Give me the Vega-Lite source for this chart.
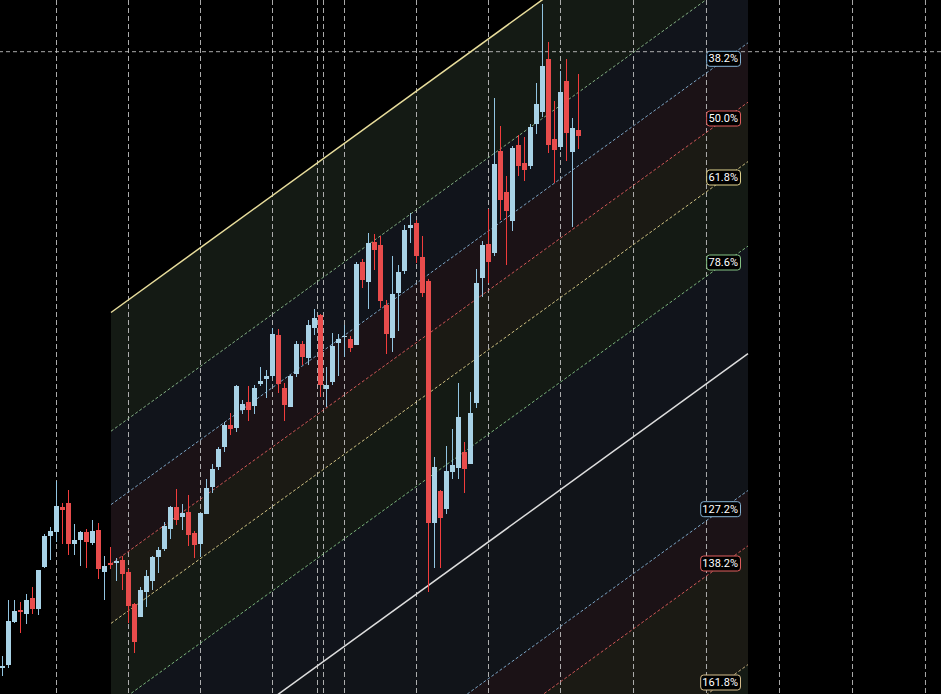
{
  "$schema": "https://vega.github.io/schema/vega-lite/v6.json",
  "width": 941,
  "height": 694,
  "padding": 0,
  "autosize": {"type": "none"},
  "background": "#000000",
  "config": {"view": {"stroke": null}, "scale": {"continuousPadding": 0}},
  "datasets": {
    "candles": [
      {"t":0,"o":102.6,"h":103.8,"l":101.8,"c":102.8},
      {"t":1,"o":102.9,"h":109.4,"l":102.6,"c":107.3},
      {"t":2,"o":107.2,"h":109.4,"l":107.1,"c":108.3},
      {"t":3,"o":108.4,"h":109.2,"l":106.1,"c":108.2},
      {"t":4,"o":108.0,"h":110.0,"l":107.0,"c":109.4},
      {"t":5,"o":109.6,"h":110.7,"l":108.0,"c":108.5},
      {"t":6,"o":108.5,"h":112.4,"l":107.9,"c":112.4},
      {"t":7,"o":112.7,"h":116.0,"l":112.6,"c":115.8},
      {"t":8,"o":115.8,"h":116.7,"l":113.4,"c":116.3},
      {"t":9,"o":116.2,"h":121.3,"l":115.2,"c":118.8},
      {"t":10,"o":118.7,"h":119.1,"l":115.0,"c":118.4},
      {"t":11,"o":119.1,"h":120.4,"l":113.9,"c":115.0},
      {"t":12,"o":115.0,"h":117.0,"l":113.9,"c":115.4},
      {"t":13,"o":115.4,"h":116.3,"l":112.8,"c":116.2},
      {"t":14,"o":116.2,"h":116.5,"l":112.6,"c":115.2},
      {"t":15,"o":115.1,"h":117.4,"l":114.9,"c":116.3},
      {"t":16,"o":116.4,"h":117.1,"l":111.5,"c":112.5},
      {"t":17,"o":112.2,"h":113.8,"l":109.4,"c":112.8},
      {"t":18,"o":113.1,"h":114.7,"l":112.5,"c":112.9},
      {"t":19,"o":113.1,"h":113.6,"l":111.3,"c":113.3},
      {"t":20,"o":113.4,"h":113.8,"l":110.4,"c":112.0},
      {"t":21,"o":112.2,"h":112.5,"l":107.1,"c":108.8},
      {"t":22,"o":109.0,"h":109.1,"l":104.1,"c":105.2},
      {"t":23,"o":107.7,"h":110.7,"l":107.7,"c":110.4},
      {"t":24,"o":110.2,"h":112.4,"l":108.7,"c":111.8},
      {"t":25,"o":111.3,"h":113.8,"l":110.4,"c":113.7},
      {"t":26,"o":113.7,"h":114.7,"l":112.1,"c":114.4},
      {"t":27,"o":114.5,"h":117.2,"l":114.3,"c":116.8},
      {"t":28,"o":116.5,"h":118.8,"l":115.5,"c":118.7},
      {"t":29,"o":118.7,"h":120.5,"l":116.9,"c":117.4},
      {"t":30,"o":117.7,"h":119.0,"l":116.4,"c":118.1},
      {"t":31,"o":118.2,"h":119.9,"l":114.8,"c":115.9},
      {"t":32,"o":116.1,"h":116.3,"l":113.6,"c":114.9},
      {"t":33,"o":115.0,"h":118.1,"l":113.7,"c":118.1},
      {"t":34,"o":118.0,"h":121.5,"l":118.0,"c":120.6},
      {"t":35,"o":120.7,"h":123.0,"l":120.1,"c":122.5},
      {"t":36,"o":122.7,"h":124.7,"l":122.4,"c":124.5},
      {"t":37,"o":124.7,"h":127.2,"l":124.2,"c":126.9},
      {"t":38,"o":126.9,"h":128.1,"l":125.9,"c":126.5},
      {"t":39,"o":126.6,"h":130.9,"l":126.2,"c":130.8},
      {"t":40,"o":128.4,"h":129.4,"l":128.0,"c":129.0},
      {"t":41,"o":129.2,"h":130.8,"l":127.3,"c":128.4},
      {"t":42,"o":128.8,"h":130.9,"l":128.0,"c":130.6},
      {"t":43,"o":131.0,"h":132.7,"l":130.8,"c":131.3},
      {"t":44,"o":131.5,"h":132.4,"l":129.6,"c":131.8},
      {"t":45,"o":131.8,"h":136.6,"l":131.6,"c":136.0},
      {"t":46,"o":135.9,"h":136.5,"l":130.1,"c":131.0},
      {"t":47,"o":130.6,"h":131.1,"l":127.3,"c":128.9},
      {"t":48,"o":128.7,"h":131.9,"l":128.7,"c":131.8},
      {"t":49,"o":132.0,"h":135.3,"l":131.7,"c":135.0},
      {"t":50,"o":135.0,"h":135.3,"l":132.9,"c":133.7},
      {"t":51,"o":133.6,"h":137.4,"l":132.9,"c":136.9},
      {"t":52,"o":136.6,"h":138.5,"l":135.9,"c":137.6},
      {"t":53,"o":137.9,"h":138.0,"l":129.7,"c":130.9},
      {"t":54,"o":130.5,"h":132.7,"l":128.7,"c":130.9},
      {"t":55,"o":131.2,"h":136.1,"l":130.9,"c":134.8},
      {"t":56,"o":135.1,"h":136.0,"l":131.8,"c":135.5},
      {"t":57,"o":135.7,"h":136.9,"l":133.7,"c":135.8},
      {"t":58,"o":135.5,"h":135.8,"l":134.2,"c":134.6},
      {"t":59,"o":134.9,"h":143.2,"l":134.9,"c":143.0},
      {"t":60,"o":143.2,"h":143.5,"l":140.6,"c":141.4},
      {"t":61,"o":141.2,"h":146.1,"l":138.5,"c":145.1},
      {"t":62,"o":145.2,"h":146.0,"l":142.4,"c":144.4},
      {"t":63,"o":144.9,"h":145.8,"l":138.6,"c":139.3},
      {"t":64,"o":138.9,"h":139.4,"l":134.0,"c":136.0},
      {"t":65,"o":135.6,"h":143.8,"l":134.2,"c":140.0},
      {"t":66,"o":140.1,"h":142.9,"l":136.3,"c":142.2},
      {"t":67,"o":142.3,"h":146.9,"l":142.0,"c":146.4},
      {"t":68,"o":146.6,"h":148.1,"l":145.1,"c":146.9},
      {"t":69,"o":147.1,"h":147.4,"l":143.1,"c":143.8},
      {"t":70,"o":143.7,"h":145.8,"l":139.7,"c":140.1},
      {"t":71,"o":141.3,"h":141.5,"l":110.2,"c":117.1},
      {"t":72,"o":117.1,"h":123.7,"l":112.6,"c":122.7},
      {"t":73,"o":120.3,"h":120.4,"l":112.6,"c":117.6},
      {"t":74,"o":118.5,"h":124.8,"l":118.0,"c":122.3},
      {"t":75,"o":122.2,"h":126.5,"l":121.5,"c":122.9},
      {"t":76,"o":122.6,"h":131.1,"l":121.5,"c":127.7},
      {"t":77,"o":124.2,"h":125.2,"l":120.1,"c":122.5},
      {"t":78,"o":123.0,"h":130.2,"l":123.0,"c":128.1},
      {"t":79,"o":129.1,"h":142.5,"l":128.6,"c":141.1},
      {"t":80,"o":141.6,"h":145.3,"l":139.7,"c":144.9},
      {"t":81,"o":145.0,"h":148.5,"l":141.1,"c":143.2},
      {"t":82,"o":144.1,"h":159.6,"l":143.8,"c":153.0},
      {"t":83,"o":154.3,"h":156.8,"l":147.4,"c":149.4},
      {"t":84,"o":150.2,"h":151.8,"l":142.9,"c":148.3},
      {"t":85,"o":147.3,"h":154.8,"l":146.3,"c":154.6},
      {"t":86,"o":154.9,"h":155.9,"l":151.8,"c":152.8},
      {"t":87,"o":153.1,"h":155.7,"l":151.3,"c":152.4},
      {"t":88,"o":152.8,"h":157.0,"l":152.5,"c":156.7},
      {"t":89,"o":157.0,"h":161.1,"l":156.0,"c":159.0},
      {"t":90,"o":158.2,"h":169.0,"l":157.7,"c":162.8},
      {"t":91,"o":163.5,"h":165.2,"l":154.1,"c":154.9},
      {"t":92,"o":155.5,"h":159.3,"l":151.1,"c":154.4},
      {"t":93,"o":154.7,"h":162.3,"l":154.4,"c":160.2},
      {"t":94,"o":161.3,"h":163.5,"l":153.3,"c":156.1},
      {"t":95,"o":154.2,"h":157.6,"l":146.7,"c":156.6},
      {"t":96,"o":156.4,"h":162.0,"l":154.5,"c":155.8}
    ],
    "levels": [
      {"lvl":"0","t":18.083,"price":138.15},{"lvl":"0","t":124.25,"price":184.33},
      {"lvl":"23.6","t":18.083,"price":126.28},{"lvl":"23.6","t":124.25,"price":172.46},
      {"lvl":"38.2","t":18.083,"price":118.94},{"lvl":"38.2","t":124.25,"price":165.12},
      {"lvl":"50","t":18.083,"price":113.0},{"lvl":"50","t":124.25,"price":159.18},
      {"lvl":"61.8","t":18.083,"price":107.06},{"lvl":"61.8","t":124.25,"price":153.24},
      {"lvl":"78.6","t":18.083,"price":98.61},{"lvl":"78.6","t":124.25,"price":144.79},
      {"lvl":"100","t":18.083,"price":87.85},{"lvl":"100","t":124.25,"price":134.03},
      {"lvl":"127.2","t":18.083,"price":74.17},{"lvl":"127.2","t":124.25,"price":120.35},
      {"lvl":"138.2","t":18.083,"price":68.64},{"lvl":"138.2","t":124.25,"price":114.82},
      {"lvl":"161.8","t":18.083,"price":56.76},{"lvl":"161.8","t":124.25,"price":102.94}
    ],
    "bands": [
      {"band":"b0","t":18.083,"lo":126.28,"hi":138.15},{"band":"b0","t":124.25,"lo":172.46,"hi":184.33},
      {"band":"b1","t":18.083,"lo":118.94,"hi":126.28},{"band":"b1","t":124.25,"lo":165.12,"hi":172.46},
      {"band":"b2","t":18.083,"lo":113.0,"hi":118.94},{"band":"b2","t":124.25,"lo":159.18,"hi":165.12},
      {"band":"b3","t":18.083,"lo":107.06,"hi":113.0},{"band":"b3","t":124.25,"lo":153.24,"hi":159.18},
      {"band":"b4","t":18.083,"lo":98.61,"hi":107.06},{"band":"b4","t":124.25,"lo":144.79,"hi":153.24},
      {"band":"b5","t":18.083,"lo":87.85,"hi":98.61},{"band":"b5","t":124.25,"lo":134.03,"hi":144.79},
      {"band":"b6","t":18.083,"lo":74.17,"hi":87.85},{"band":"b6","t":124.25,"lo":120.35,"hi":134.03},
      {"band":"b7","t":18.083,"lo":68.64,"hi":74.17},{"band":"b7","t":124.25,"lo":114.82,"hi":120.35},
      {"band":"b8","t":18.083,"lo":56.76,"hi":68.64},{"band":"b8","t":124.25,"lo":102.94,"hi":114.82},
      {"band":"b9","t":18.083,"lo":37.55,"hi":56.76},{"band":"b9","t":124.25,"lo":83.73,"hi":102.94}
    ],
    "gridx": [
      {"t":9},{"t":21},{"t":33},{"t":45},{"t":52.5},{"t":53.5},{"t":57},{"t":69},{"t":81},{"t":93},
      {"t":105.17},{"t":117.33},{"t":129.5},{"t":141.67},{"t":153.83}
    ],
    "gridy": [{"price":164.23}],
    "labels": [
      {"label":"38.2%","lvl":"38.2","t":120.08,"price":163.52},
      {"label":"50.0%","lvl":"50","t":120.08,"price":157.55},
      {"label":"61.8%","lvl":"61.8","t":120.08,"price":151.65},
      {"label":"78.6%","lvl":"78.6","t":120.08,"price":143.15},
      {"label":"127.2%","lvl":"127.2","t":120.08,"price":118.48},
      {"label":"138.2%","lvl":"138.2","t":120.08,"price":113.05},
      {"label":"161.8%","lvl":"161.8","t":120.08,"price":101.15}
    ]
  },
  "layer": [
    {
      "data": {"name": "bands"},
      "mark": {"type": "area", "clip": true, "opacity": 1},
      "encoding": {
        "x": {"field": "t", "type": "quantitative", "scale": {"domain": [-0.4167, 156.4167], "nice": false, "zero": false, "padding": 0}, "axis": null},
        "y": {"field": "lo", "type": "quantitative", "scale": {"domain": [100, 169.4], "nice": false, "zero": false, "padding": 0}, "axis": null},
        "y2": {"field": "hi"},
        "fill": {"field": "band", "type": "nominal", "legend": null,
          "scale": {"domain": ["b0","b1","b2","b3","b4","b5","b6","b7","b8","b9"],
                    "range": ["#141a14","#11141b","#1b1216","#1b1a14","#141a14","#11141b","#111419","#1b1216","#1b1a14","#141a14"]}}
      }
    },
    {
      "data": {"name": "gridx"},
      "mark": {"type": "rule", "color": "#c8c8c8", "strokeWidth": 1, "strokeDash": [5, 3], "opacity": 0.85},
      "encoding": {
        "x": {"field": "t", "type": "quantitative", "scale": {"domain": [-0.4167, 156.4167], "nice": false, "zero": false, "padding": 0}, "axis": null}
      }
    },
    {
      "data": {"name": "gridy"},
      "mark": {"type": "rule", "color": "#c8c8c8", "strokeWidth": 1, "strokeDash": [4, 3], "opacity": 0.85},
      "encoding": {
        "y": {"field": "price", "type": "quantitative", "scale": {"domain": [100, 169.4], "nice": false, "zero": false, "padding": 0}, "axis": null}
      }
    },
    {
      "data": {"name": "levels"},
      "transform": [{"filter": "datum.lvl !== '0' && datum.lvl !== '100'"}],
      "mark": {"type": "line", "clip": true, "strokeWidth": 1, "strokeDash": [3, 2], "opacity": 0.9},
      "encoding": {
        "x": {"field": "t", "type": "quantitative", "scale": {"domain": [-0.4167, 156.4167], "nice": false, "zero": false, "padding": 0}, "axis": null},
        "y": {"field": "price", "type": "quantitative", "scale": {"domain": [100, 169.4], "nice": false, "zero": false, "padding": 0}, "axis": null},
        "stroke": {"field": "lvl", "type": "nominal", "legend": null,
          "scale": {"domain": ["0","23.6","38.2","50","61.8","78.6","100","127.2","138.2","161.8"],
                    "range": ["#e9de9c","#8fbf8f","#86b4d6","#e25f5f","#e3d48f","#86c486","#dedede","#86b4d6","#e25f5f","#d9c08e"]}}
      }
    },
    {
      "data": {"name": "levels"},
      "transform": [{"filter": "datum.lvl === '0' || datum.lvl === '100'"}],
      "mark": {"type": "line", "clip": true, "strokeWidth": 1.5},
      "encoding": {
        "x": {"field": "t", "type": "quantitative", "scale": {"domain": [-0.4167, 156.4167], "nice": false, "zero": false, "padding": 0}, "axis": null},
        "y": {"field": "price", "type": "quantitative", "scale": {"domain": [100, 169.4], "nice": false, "zero": false, "padding": 0}, "axis": null},
        "stroke": {"field": "lvl", "type": "nominal", "legend": null}
      }
    },
    {
      "data": {"name": "candles"},
      "mark": {"type": "rule", "strokeWidth": 1},
      "encoding": {
        "x": {"field": "t", "type": "quantitative", "scale": {"domain": [-0.4167, 156.4167], "nice": false, "zero": false, "padding": 0}, "axis": null},
        "y": {"field": "l", "type": "quantitative", "scale": {"domain": [100, 169.4], "nice": false, "zero": false, "padding": 0}, "axis": null},
        "y2": {"field": "h"},
        "color": {"condition": {"test": "datum.c >= datum.o", "value": "#92c5e1"}, "value": "#f23c3c"}
      }
    },
    {
      "data": {"name": "candles"},
      "mark": {"type": "bar", "width": 5},
      "encoding": {
        "x": {"field": "t", "type": "quantitative", "scale": {"domain": [-0.4167, 156.4167], "nice": false, "zero": false, "padding": 0}, "axis": null},
        "y": {"field": "o", "type": "quantitative", "scale": {"domain": [100, 169.4], "nice": false, "zero": false, "padding": 0}, "axis": null},
        "y2": {"field": "c"},
        "color": {"condition": {"test": "datum.c >= datum.o", "value": "#a8d2e6"}, "value": "#e84c4c"}
      }
    },
    {
      "data": {"name": "labels"},
      "mark": {"type": "point", "filled": true, "fill": "#000000", "fillOpacity": 1, "opacity": 1, "strokeWidth": 1, "size": 1600},
      "encoding": {
        "x": {"field": "t", "type": "quantitative", "scale": {"domain": [-0.4167, 156.4167], "nice": false, "zero": false, "padding": 0}, "axis": null},
        "y": {"field": "price", "type": "quantitative", "scale": {"domain": [100, 169.4], "nice": false, "zero": false, "padding": 0}, "axis": null},
        "stroke": {"field": "lvl", "type": "nominal", "legend": null},
        "shape": {"field": "label", "type": "nominal", "legend": null,
          "scale": {"domain": ["38.2%","50.0%","61.8%","78.6%","127.2%","138.2%","161.8%"],
                    "range": [
                      "M-0.665,-0.375 L0.725,-0.375 Q0.875,-0.375 0.875,-0.225 L0.875,0.225 Q0.875,0.375 0.725,0.375 L-0.665,0.375 Q-0.815,0.375 -0.815,0.225 L-0.815,-0.225 Q-0.815,-0.375 -0.665,-0.375 Z",
                      "M-0.665,-0.375 L0.725,-0.375 Q0.875,-0.375 0.875,-0.225 L0.875,0.225 Q0.875,0.375 0.725,0.375 L-0.665,0.375 Q-0.815,0.375 -0.815,0.225 L-0.815,-0.225 Q-0.815,-0.375 -0.665,-0.375 Z",
                      "M-0.665,-0.375 L0.725,-0.375 Q0.875,-0.375 0.875,-0.225 L0.875,0.225 Q0.875,0.375 0.725,0.375 L-0.665,0.375 Q-0.815,0.375 -0.815,0.225 L-0.815,-0.225 Q-0.815,-0.375 -0.665,-0.375 Z",
                      "M-0.665,-0.375 L0.725,-0.375 Q0.875,-0.375 0.875,-0.225 L0.875,0.225 Q0.875,0.375 0.725,0.375 L-0.665,0.375 Q-0.815,0.375 -0.815,0.225 L-0.815,-0.225 Q-0.815,-0.375 -0.665,-0.375 Z",
                      "M-0.965,-0.375 L0.725,-0.375 Q0.875,-0.375 0.875,-0.225 L0.875,0.225 Q0.875,0.375 0.725,0.375 L-0.965,0.375 Q-1.115,0.375 -1.115,0.225 L-1.115,-0.225 Q-1.115,-0.375 -0.965,-0.375 Z",
                      "M-0.965,-0.375 L0.725,-0.375 Q0.875,-0.375 0.875,-0.225 L0.875,0.225 Q0.875,0.375 0.725,0.375 L-0.965,0.375 Q-1.115,0.375 -1.115,0.225 L-1.115,-0.225 Q-1.115,-0.375 -0.965,-0.375 Z",
                      "M-0.965,-0.375 L0.725,-0.375 Q0.875,-0.375 0.875,-0.225 L0.875,0.225 Q0.875,0.375 0.725,0.375 L-0.965,0.375 Q-1.115,0.375 -1.115,0.225 L-1.115,-0.225 Q-1.115,-0.375 -0.965,-0.375 Z"
                    ]}}
      }
    },
    {
      "data": {"name": "labels"},
      "mark": {"type": "text", "align": "right", "baseline": "middle", "dx": 15, "dy": 0.5, "font": "Roboto", "fontSize": 11, "fill": "#ffffff"},
      "encoding": {
        "x": {"field": "t", "type": "quantitative", "scale": {"domain": [-0.4167, 156.4167], "nice": false, "zero": false, "padding": 0}, "axis": null},
        "y": {"field": "price", "type": "quantitative", "scale": {"domain": [100, 169.4], "nice": false, "zero": false, "padding": 0}, "axis": null},
        "text": {"field": "label", "type": "nominal"}
      }
    }
  ]
}
